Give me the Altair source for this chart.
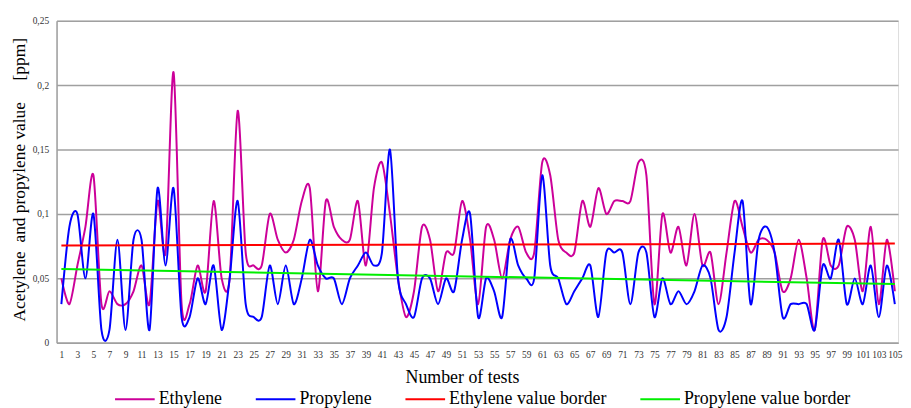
import altair as alt
import pandas as pd

tests = list(range(1, 106))

ethylene = [0.05, 0.03, 0.06, 0.09, 0.13, 0.03, 0.04, 0.03, 0.03, 0.04,
            0.06, 0.03, 0.11, 0.07, 0.21, 0.03, 0.03, 0.06, 0.04, 0.11,
            0.05, 0.05, 0.18, 0.07, 0.06, 0.06, 0.10, 0.08, 0.07, 0.08,
            0.11, 0.12, 0.04, 0.11, 0.09, 0.08, 0.08, 0.11, 0.06, 0.12,
            0.14, 0.10, 0.05, 0.02, 0.04, 0.09, 0.08, 0.04, 0.07, 0.07,
            0.11, 0.08, 0.03, 0.09, 0.08, 0.05, 0.08, 0.09, 0.07, 0.07,
            0.14, 0.13, 0.08, 0.07, 0.07, 0.11, 0.09, 0.12, 0.10, 0.11,
            0.11, 0.11, 0.14, 0.13, 0.03, 0.10, 0.07, 0.09, 0.06, 0.10,
            0.06, 0.07, 0.03, 0.07, 0.11, 0.09, 0.07, 0.08, 0.08, 0.07,
            0.04, 0.05, 0.08, 0.05, 0.01, 0.08, 0.06, 0.06, 0.09, 0.08,
            0.04, 0.09, 0.03, 0.08, 0.04]

propylene = [0.03, 0.09, 0.10, 0.05, 0.10, 0.01, 0.01, 0.08, 0.01, 0.08,
             0.08, 0.01, 0.12, 0.06, 0.12, 0.02, 0.02, 0.05, 0.03, 0.06,
             0.01, 0.05, 0.11, 0.03, 0.02, 0.02, 0.06, 0.03, 0.06, 0.03,
             0.05, 0.08, 0.06, 0.05, 0.05, 0.03, 0.05, 0.06, 0.07, 0.06,
             0.07, 0.15, 0.05, 0.03, 0.02, 0.05, 0.05, 0.03, 0.05, 0.04,
             0.08, 0.10, 0.02, 0.05, 0.04, 0.02, 0.08, 0.06, 0.05, 0.05,
             0.13, 0.06, 0.05, 0.03, 0.04, 0.05, 0.06, 0.02, 0.07, 0.07,
             0.07, 0.03, 0.07, 0.07, 0.02, 0.05, 0.03, 0.04, 0.03, 0.04,
             0.06, 0.05, 0.01, 0.02, 0.07, 0.11, 0.03, 0.08, 0.09, 0.07,
             0.02, 0.03, 0.03, 0.03, 0.01, 0.06, 0.05, 0.08, 0.03, 0.05,
             0.03, 0.06, 0.02, 0.06, 0.03]

border_tests = [1, 105]
ethylene_border = [0.0755, 0.0770]
propylene_border = [0.0572, 0.0456]

series_names = ["Ethylene", "Propylene", "Ethylene value border", "Propylene value border"]
series_colors = ["#CC0099", "#0000FF", "#FF0000", "#00EE00"]

x_ticks = list(range(1, 106, 2))
y_ticks = [0, 0.05, 0.1, 0.15, 0.2, 0.25]

df_eth = pd.DataFrame({"test": tests, "value": ethylene, "series": "Ethylene"})
df_pro = pd.DataFrame({"test": tests, "value": propylene, "series": "Propylene"})
df_eb = pd.DataFrame({"test": border_tests, "value": ethylene_border, "series": "Ethylene value border"})
df_pb = pd.DataFrame({"test": border_tests, "value": propylene_border, "series": "Propylene value border"})

SERIF = "Liberation Serif"

x_enc = alt.X(
    "test:Q",
    scale=alt.Scale(domain=[0.4, 105.4], nice=False, zero=False),
    axis=alt.Axis(
        values=x_ticks, title="Number of tests", grid=False, ticks=False,
        labelFont=SERIF, labelFontSize=9.5, labelColor="#333333", labelPadding=7,
        labelOverlap=False, labelFlush=False,
        domainColor="#A0A0A0", domainWidth=1.5,
        titleFont=SERIF, titleFontSize=18, titleFontWeight="normal", titleColor="#000000",
        titleX=409, titleY=35, titleBaseline="middle", titleAlign="center",
    ),
)
y_enc = alt.Y(
    "value:Q",
    scale=alt.Scale(domain=[0, 0.25], nice=False),
    axis=alt.Axis(
        values=y_ticks, format=".2~f", labelExpr="replace(datum.label, '.', ',')",
        title="Acetylene\u00a0 and propylene value\u00a0\u00a0\u00a0\u00a0 [ppm]",
        grid=True, gridColor="#A0A0A0", gridWidth=1.5, ticks=False,
        labelFont=SERIF, labelFontSize=9.5, labelColor="#333333", labelPadding=8,
        domainColor="#A0A0A0", domainWidth=1.5,
        titleFont=SERIF, titleFontSize=17.5, titleFontWeight="normal", titleColor="#000000",
        titleX=-37, titleY=160, titleAngle=-90, titleBaseline="middle", titleAlign="center",
    ),
)
color_enc = alt.Color(
    "series:N",
    scale=alt.Scale(domain=series_names, range=series_colors),
    legend=alt.Legend(
        title=None, orient="none", direction="horizontal", legendX=58, legendY=361,
        symbolType="stroke", symbolSize=1600, symbolStrokeWidth=2,
        labelFont=SERIF, labelFontSize=18, labelColor="#000000", labelOffset=3,
        columnPadding=30, labelLimit=400,
    ),
)

def line(df, smooth):
    kw = {"strokeWidth": 2}
    if smooth:
        kw["interpolate"] = "cardinal"
        kw["tension"] = 0.15
    return alt.Chart(df).mark_line(**kw).encode(x=x_enc, y=y_enc, color=color_enc)

chart = alt.layer(
    line(df_eth, True),
    line(df_pro, True),
    line(df_eb, False),
    line(df_pb, False),
).properties(
    width=849, height=325,
    autosize=alt.AutoSizeParams(type="none"),
    padding={"left": 49, "top": 11, "right": 5, "bottom": 64},
).configure_view(stroke=None).configure(background="#FFFFFF")

chart.save("out.html", embed_options={"renderer": "svg", "actions": False})
